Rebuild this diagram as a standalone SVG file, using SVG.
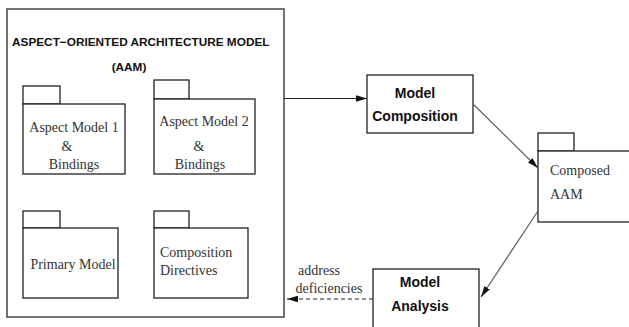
<svg xmlns="http://www.w3.org/2000/svg" width="629" height="327" viewBox="0 0 629 327">
<style>
.box{fill:#fff;stroke:#222;stroke-width:1.3}
.outer{fill:#fff;stroke:#444;stroke-width:1.5}
.ser{font-family:"Liberation Serif","Times New Roman",serif;font-size:14px;fill:#333}
.bold{font-family:"Liberation Sans",Arial,sans-serif;font-weight:bold;font-size:14px;fill:#111}
.title{font-family:"Liberation Sans",Arial,sans-serif;font-weight:bold;font-size:11.8px;fill:#111}
.conn{fill:none;stroke:#222;stroke-width:1.2}
.grey{fill:none;stroke:#666;stroke-width:1.3}
</style>
<defs>
<marker id="ah" markerWidth="12" markerHeight="8" refX="11" refY="4" orient="auto" markerUnits="userSpaceOnUse">
<path d="M0,0.8 L11,4 L0,7.2 Z" fill="#111"/>
</marker>
</defs>
<g id="aam">
<rect class="outer" x="7" y="9" width="277" height="308"/>
<text class="title" x="12" y="46">ASPECT−ORIENTED ARCHITECTURE MODEL</text>
<text class="title" x="129" y="71" text-anchor="middle">(AAM)</text>
</g>
<g id="aspect1">
<rect class="box" x="23" y="86" width="37" height="18"/>
<rect class="box" x="23" y="104" width="102" height="70"/>
<text class="ser" x="74" y="132" text-anchor="middle">Aspect Model 1</text>
<text class="ser" x="67" y="151" text-anchor="middle">&amp;</text>
<text class="ser" x="74" y="169" text-anchor="middle">Bindings</text>
</g>
<g id="aspect2">
<rect class="box" x="154" y="80" width="35" height="19"/>
<rect class="box" x="154" y="99" width="101" height="75"/>
<text class="ser" x="204" y="126" text-anchor="middle">Aspect Model 2</text>
<text class="ser" x="199" y="151" text-anchor="middle">&amp;</text>
<text class="ser" x="200" y="169" text-anchor="middle">Bindings</text>
</g>
<g id="primary">
<rect class="box" x="23" y="211" width="37" height="17"/>
<rect class="box" x="23" y="228" width="95" height="70"/>
<text class="ser" x="73" y="269" text-anchor="middle">Primary Model</text>
</g>
<g id="directives">
<rect class="box" x="154" y="211" width="35" height="17"/>
<rect class="box" x="154" y="228" width="94" height="70"/>
<text class="ser" x="160" y="257">Composition</text>
<text class="ser" x="160" y="275">Directives</text>
</g>
<g id="composition">
<rect class="box" x="367" y="75" width="106" height="58"/>
<text class="bold" x="415" y="98" text-anchor="middle">Model</text>
<text class="bold" x="415" y="121" text-anchor="middle">Composition</text>
</g>
<g id="composed">
<rect class="box" x="538" y="133" width="36" height="18"/>
<rect class="box" x="538" y="151" width="95" height="71"/>
<text class="ser" x="550" y="175">Composed</text>
<text class="ser" x="550" y="199">AAM</text>
</g>
<g id="analysis">
<rect class="box" x="373" y="269" width="106" height="62"/>
<text class="bold" x="420" y="287" text-anchor="middle">Model</text>
<text class="bold" x="420" y="311" text-anchor="middle">Analysis</text>
</g>
<g id="connectors">
<line class="conn" x1="284" y1="98.5" x2="367" y2="98.5" marker-end="url(#ah)"/>
<line class="grey" x1="473" y1="104" x2="538" y2="168" marker-end="url(#ah)"/>
<line class="grey" x1="538" y1="211" x2="481" y2="297" marker-end="url(#ah)"/>
<line class="conn" x1="373" y1="299" x2="287" y2="299" stroke-dasharray="4,3" marker-end="url(#ah)"/>
<text class="ser" x="319" y="275" text-anchor="middle">address</text>
<text class="ser" x="329" y="293" text-anchor="middle">deficiencies</text>
</g>
</svg>
